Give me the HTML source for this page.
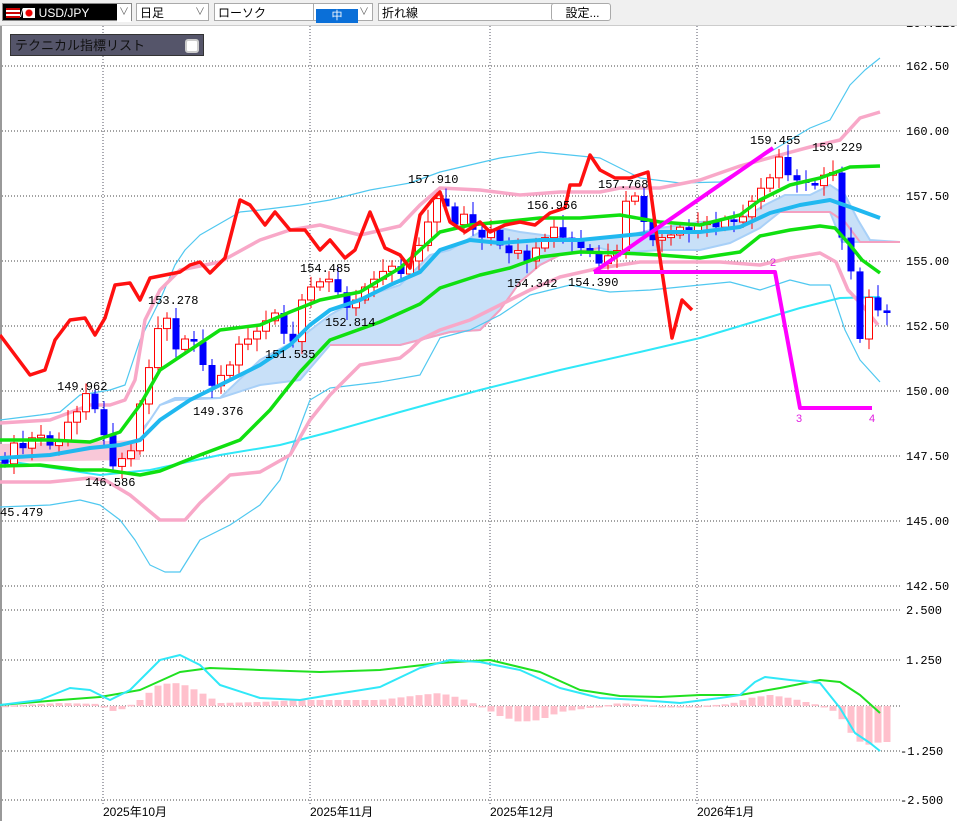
<!DOCTYPE html>
<html><head><meta charset="utf-8">
<style>
html,body{margin:0;padding:0;background:#fff;width:957px;height:821px;overflow:hidden;font-family:"Liberation Sans","Noto Sans CJK JP",sans-serif}
#tb{position:absolute;left:0;top:0;width:957px;height:25px;background:#f0f0f0;border-bottom:1px solid #ccc}
.c{position:absolute;top:3px;height:18px;background:#fff;border:1px solid #aaa;font-size:12px;line-height:18px;box-sizing:border-box;padding-left:3px}
.c .ar{position:absolute;right:3px;top:0;color:#666;font-size:10px}
svg{position:absolute;left:0;top:0}
</style></head><body>
<svg id="s" width="957" height="821" xmlns="http://www.w3.org/2000/svg"></svg>
<div id="tb">
<div class="c" style="left:2px;width:130px;background:#000;color:#fff;border-color:#888"><span style="display:inline-block;width:14px;height:10px;background:repeating-linear-gradient(#c00 0 2px,#fff 2px 4px);vertical-align:-1px"></span>/<span style="display:inline-block;width:12px;height:10px;background:radial-gradient(circle,#e00 3px,#fff 4px);vertical-align:-1px"></span> USD/JPY<span class="ar" style="background:#fff;right:0;width:14px;text-align:center">&#8744;</span></div>
<div class="c" style="left:136px;width:73px">日足<span class="ar">&#8744;</span></div>
<div class="c" style="left:214px;width:122px">ローソク<span class="ar">&#8744;</span></div>
<div class="c" style="left:313px;width:60px;background:#fff"><span style="display:inline-block;width:42px;height:14px;background:#0a6fd8;vertical-align:-2px;color:#fff;text-align:center;font-size:11px;line-height:14px;margin-left:-1px">中</span><span class="ar">&#8744;</span></div>
<div class="c" style="left:378px;width:216px">折れ線</div>
<div class="c" style="left:551px;width:60px;text-align:center;border-radius:3px">設定...</div>
</div>
<div style="position:absolute;left:10px;top:34px;width:194px;height:22px;background:#55556a;border:1px solid #333;font-size:13px;line-height:22px;color:#111;padding-left:4px;box-sizing:border-box">テクニカル指標リスト<span style="position:absolute;right:4px;top:4px;width:10px;height:10px;background:#fff;border:2px solid #ccc;border-radius:3px"></span></div>
<script>
const S=document.getElementById('s');let h='';
const py=p=>131+(160-p)*26;
h+='<rect x="0" y="22" width="2" height="800" fill="#999"/>';
[[162.5,'162.50'],[160,'160.00'],[157.5,'157.50'],[155,'155.00'],[152.5,'152.50'],[150,'150.00'],[147.5,'147.50'],[145,'145.00'],[142.5,'142.50']].forEach(([p,t])=>{const y=py(p);h+=`<line x1="2" y1="${y}" x2="902" y2="${y}" stroke="#444" stroke-dasharray="1,2"/><text x="906" y="${y+4}" font-size="12" font-family="Liberation Mono,monospace">${t}</text>`});
h+=`<text x="906" y="27" font-size="12" font-family="Liberation Mono,monospace">164.110</text>`;
[[610,'2.500'],[660,'1.250'],[751,'-1.250'],[800,'-2.500']].forEach(([y,t])=>{h+=`<line x1="2" y1="${y}" x2="902" y2="${y}" stroke="#444" stroke-dasharray="1,2"/><text x="${t[0]=='-'?900:906}" y="${y+4}" font-size="12" font-family="Liberation Mono,monospace">${t}</text>`});
h+=`<line x1="2" y1="706" x2="902" y2="706" stroke="#444" stroke-dasharray="1,2"/>`;
[[103,'2025年10月'],[310,'2025年11月'],[490,'2025年12月'],[697,'2026年1月']].forEach(([x,t])=>{h+=`<line x1="${x}" y1="26" x2="${x}" y2="805" stroke="#556" stroke-dasharray="1,2"/><text x="${x}" y="816" font-size="12">${t}</text>`});
const pl=(pts,c,w)=>{h+=`<polyline fill="none" stroke="${c}" stroke-width="${w}" stroke-linejoin="round" points="${pts.map(p=>p.join(',')).join(' ')}"/>`};
h+=`<polygon fill="#f8c8d8" points="0,444 140,440 140,460 0,462"/>`;
h+=`<polygon fill="#c8e0f8" stroke="#a8d0f8" stroke-width="2" points="140,432 150,420 160,405 175,398 220,398 260,360 300,338 330,315 360,298 400,285 430,255 450,250 480,232 500,228 520,232 550,236 580,240 620,237 660,228 700,222 740,220 765,205 785,195 810,195 830,185 845,195 858,220 870,240 900,242 842,242 830,212 780,212 760,228 730,243 700,250 660,250 620,253 600,248 560,255 540,265 520,282 500,310 480,330 450,332 420,340 400,345 330,345 300,380 260,385 220,398 175,400 160,405 140,435"/>`;
pl([[330,345],[400,345],[450,332],[480,330],[500,310],[520,282],[540,265],[560,255],[600,248]],'#f4a0c0',2);
pl([[780,212],[830,212],[845,222],[860,242],[900,242]],'#f4a0c0',2);
pl([[0,460],[100,475],[150,470],[220,455],[280,445],[330,432],[400,412],[480,390],[560,370],[640,352],[700,338],[760,320],[800,308],[840,298],[880,297]],'#30e8f8',2);
pl([[0,420],[40,415],[60,412],[80,395],[110,390],[125,385],[140,340],[160,300],[175,265],[185,250],[200,235],[240,212],[260,210],[300,205],[330,200],[370,190],[410,183],[440,172],[470,165],[500,158],[540,152],[600,158],[640,178],[680,183],[720,182],[760,158],[790,140],[810,128],[830,120],[850,85],[865,70],[880,58]],'#50c8f0',1.2);
pl([[0,507],[50,505],[80,500],[100,505],[120,520],[135,540],[150,565],[165,572],[180,572],[200,540],[230,525],[260,505],[280,480],[295,440],[310,400],[330,388],[380,382],[420,375],[440,338],[470,330],[500,315],[530,295],[570,285],[610,292],[650,290],[700,285],[730,282],[760,290],[790,280],[810,285],[830,285],[845,330],[860,360],[880,382]],'#50c8f0',1.2);
pl([[0,423],[50,420],[90,405],[110,405],[125,400],[135,380],[145,320],[160,290],[180,270],[220,262],[260,240],[290,230],[320,225],[360,235],[400,226],[420,205],[440,188],[480,190],[520,195],[560,192],[600,192],[620,188],[660,188],[700,180],[740,166],[780,155],[810,147],[840,140],[860,118],[880,112]],'#f8a8c8',3.5);
pl([[0,482],[50,482],[90,478],[105,480],[130,495],[160,520],[185,520],[200,503],[230,475],[260,472],[290,455],[310,420],[330,395],[360,365],[400,358],[410,350],[420,340],[440,330],[470,320],[500,305],[530,290],[560,277],[600,268],[640,262],[680,262],[720,262],[760,265],[790,258],[820,253],[836,262],[848,290],[862,305],[878,325]],'#f8a8c8',3.5);
const C=[147.2,148.0,147.8,148.2,148.3,147.9,148.1,148.8,149.2,149.9,149.3,148.3,147.1,147.4,147.7,149.5,150.9,152.4,152.8,151.6,152,151.9,151.0,150.2,150.6,151.0,151.8,152.0,152.3,152.7,153.0,152.2,151.9,153.5,154.0,154.2,154.3,153.8,153.2,153.5,154.0,154.3,154.6,154.8,154.5,155.0,155.6,156.5,157.4,157.1,156.4,156.8,156.2,155.9,156.2,155.6,155.3,155.4,155.0,155.5,155.9,156.3,155.9,155.8,155.5,155.3,154.9,155.2,155.4,157.3,157.5,156.5,155.8,155.9,156.0,156.3,156.1,156.4,156.5,156.3,156.6,156.5,156.7,157.3,157.8,158.2,159.0,158.3,158.1,158.0,157.9,158.3,158.4,155.9,154.6,152.0,153.6,153.1,153.0];
let prev=147.5;
C.forEach((c,i)=>{const x=5+9*i,o=prev;prev=c;const up=c>=o;const col=up?'#ff0000':'#0000ff';const hi=Math.max(o,c)+0.15+((i*37)%5)*0.08,lo=Math.min(o,c)-0.15-((i*53)%5)*0.08;
h+=`<line x1="${x}" y1="${py(hi)}" x2="${x}" y2="${py(lo)}" stroke="${col}" stroke-width="1"/>`;
const y1=py(Math.max(o,c)),y2=Math.max(py(Math.min(o,c)),y1+1.5);
h+=up?`<rect x="${x-3.5}" y="${y1}" width="7" height="${y2-y1}" fill="#fff" stroke="#f00"/>`:`<rect x="${x-3.5}" y="${y1}" width="7" height="${y2-y1}" fill="#0000ff"/>`;});
pl([[0,440],[50,440],[90,442],[120,432],[140,405],[160,370],[190,350],[220,330],[260,325],[290,312],[320,300],[360,292],[400,268],[420,250],[440,232],[470,225],[500,222],[540,218],[580,218],[620,215],[660,222],[700,225],[740,215],[760,200],[790,185],[820,178],[850,167],[880,166]],'#10e010',3.5);
pl([[0,466],[40,465],[80,470],[105,470],[140,475],[160,471],[200,455],[240,440],[270,410],[300,372],[330,340],[380,322],[420,304],[440,288],[480,275],[510,268],[540,257],[580,252],[620,253],[660,255],[700,258],[740,252],[760,236],[790,230],[820,226],[835,228],[850,245],[862,260],[880,273]],'#10e010',3.5);
pl([[0,458],[50,455],[90,448],[120,445],[140,440],[160,420],[190,400],[220,385],[260,365],[290,345],[310,325],[330,310],[360,300],[390,285],[420,272],[440,250],[470,240],[500,243],[540,240],[580,240],[620,236],[660,232],[700,232],[740,227],[770,213],[800,205],[830,200],[850,207],[880,218]],'#20b8f0',4);
pl([[0,335],[15,355],[30,375],[45,370],[55,340],[70,320],[85,318],[95,335],[105,318],[115,285],[130,283],[140,300],[150,278],[165,275],[180,272],[190,265],[200,262],[210,273],[225,258],[240,200],[250,205],[265,225],[275,212],[290,230],[305,230],[320,250],[330,240],[345,258],[355,250],[370,212],[385,248],[400,255],[410,268],[420,215],[432,200],[440,192],[450,222],[465,232],[480,222],[490,232],[505,225],[520,222],[535,225],[550,213],[565,208],[570,185],[580,185],[590,155],[600,170],[615,178],[630,178],[648,172],[658,245],[672,338],[682,300],[692,310]],'#ff1010',3.5);
pl([[594,272],[773,148]],'#ff00ff',4);
pl([[594,272],[775,272],[800,408],[872,408]],'#ff00ff',4);
h+=`<text x="770" y="266" font-size="11" fill="#e020e0">2</text><text x="796" y="422" font-size="11" fill="#e020e0">3</text><text x="869" y="422" font-size="11" fill="#e020e0">4</text>`;
[[408,183,'157.910'],[750,144,'159.455'],[812,151,'159.229'],[598,188,'157.768'],[527,209,'156.956'],[300,272,'154.485'],[507,287,'154.342'],[568,286,'154.390'],[148,304,'153.278'],[325,326,'152.814'],[265,358,'151.535'],[57,390,'149.962'],[193,415,'149.376'],[85,486,'146.586'],[0,516,'45.479']].forEach(([x,y,t])=>{h+=`<text x="${x}" y="${y}" font-size="12" font-family="Liberation Mono,monospace">${t}</text>`});
const M=[[0,705],[40,700],[70,688],[90,690],[110,700],[130,690],[160,660],[180,655],[200,665],[220,685],[260,698],[300,700],[330,695],[380,687],[420,668],[450,660],[480,662],[520,670],[560,688],[600,698],[640,700],[680,703],[720,698],[740,695],[755,682],[765,677],[790,680],[820,683],[840,708],[855,733],[870,743],[880,751]];
const G=[[0,705],[60,700],[100,697],[140,690],[180,672],[210,668],[260,670],[320,672],[380,670],[440,663],[490,660],[540,672],[580,690],[620,696],[660,697],[700,695],[740,695],[780,688],[820,680],[840,682],[860,695],[880,713]];
const HB=[[0,706],[60,703],[100,704],[115,712],[125,708],[140,700],[160,684],[180,683],[200,692],[220,703],[260,702],[300,700],[380,700],[420,695],[440,693],[460,698],[480,706],[500,716],[520,722],[540,720],[560,712],[590,708],[620,703],[660,706],[700,706],[730,704],[750,698],[770,695],[790,698],[810,703],[830,708],[845,722],[855,740],[870,745],[880,742]];
const it=(a,x)=>{for(let i=0;i<a.length-1;i++)if(x>=a[i][0]&&x<=a[i+1][0]){const t=(x-a[i][0])/(a[i+1][0]-a[i][0]);return a[i][1]+t*(a[i+1][1]-a[i][1]);}return a[a.length-1][1];};
C.forEach((c,i)=>{const x=5+9*i;const v=it(HB,x);h+=`<rect x="${x-3.5}" y="${Math.min(706,v)}" width="7" height="${Math.max(1.5,Math.abs(v-706))}" fill="#ffc0cc"/>`;});
pl(G,'#20e020',2);pl(M,'#30e8f8',2);
S.innerHTML=h;
</script>
</body></html>
